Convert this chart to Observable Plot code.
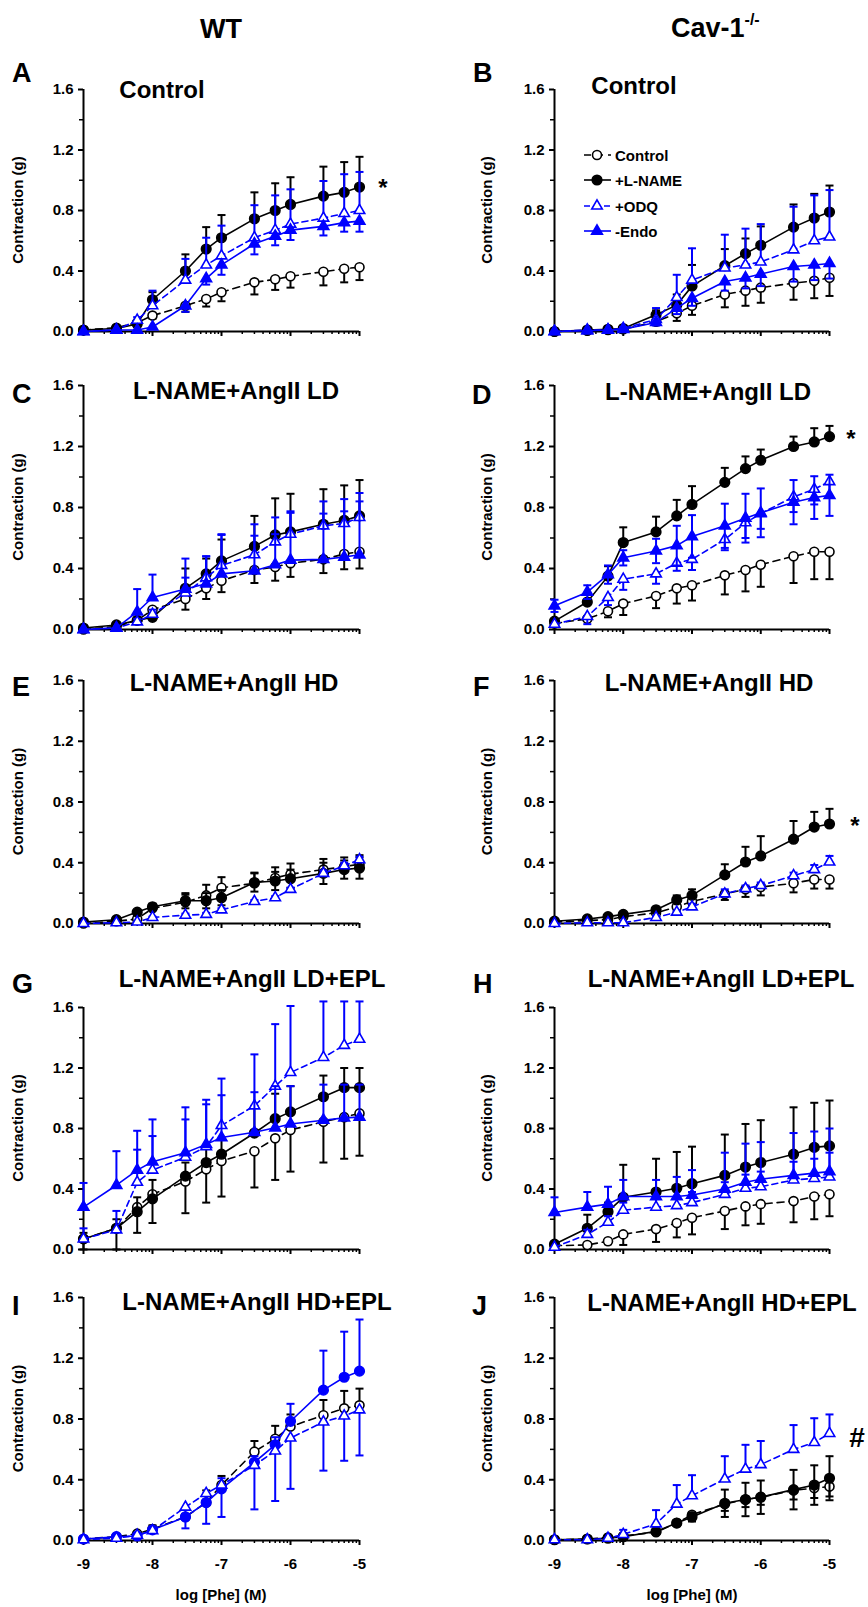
<!DOCTYPE html>
<html><head><meta charset="utf-8">
<script src="https://cdn.jsdelivr.net/npm/d3@7"></script>
<script src="https://cdn.jsdelivr.net/npm/@observablehq/plot@0.6"></script>
<style>
html,body{margin:0;padding:0;background:#fff;}
#root{position:relative;width:868px;height:1607px;overflow:hidden;background:#fff;}
#root svg{position:absolute;}
</style></head><body><div id="root"></div>
<script>
// ---- data ----
const phe = [1e-9,3e-9,6e-9,1e-8,3e-8,6e-8,1e-7,3e-7,6e-7,1e-6,3e-6,6e-6,1e-5]; // M
const xTicks = [-9,-8,-7,-6,-5];
const yTicks = [0,0.4,0.8,1.2,1.6];
const yMinorTicks = [0.2,0.6,1.0,1.4];
const seriesNames = ["Control","+L-NAME","+ODQ","-Endo"];
const panelTitles = ["Control","Control","L-NAME+AngII LD","L-NAME+AngII LD","L-NAME+AngII HD","L-NAME+AngII HD","L-NAME+AngII LD+EPL","L-NAME+AngII LD+EPL","L-NAME+AngII HD+EPL","L-NAME+AngII HD+EPL"];
const panelLetters = ["A","B","C","D","E","F","G","H","I","J"];
const columnHeads = ["WT","Cav-1"];
const yLabel = "Contraction (g)";
const xLabel = "log [Phe] (M)";

const A_ctrl = [0.01,0.025,0.06,0.105,0.17,0.215,0.26,0.325,0.345,0.365,0.395,0.415,0.425];
const A_ctrlErr = [0,0,0.01,0.02,0.04,0.05,0.06,0.08,0.07,0.075,0.09,0.09,0.085];
const A_lname = [0.01,0.02,0.05,0.21,0.40,0.545,0.62,0.745,0.80,0.84,0.895,0.92,0.955];
const A_lnameErr = [0,0,0.01,0.05,0.11,0.145,0.15,0.175,0.18,0.18,0.195,0.2,0.2];
const A_odq = [0,0.01,0.075,0.17,0.34,0.44,0.50,0.62,0.67,0.71,0.75,0.78,0.80];
const A_odqErr = [0,0,0.02,0.1,0.14,0.18,0.2,0.215,0.23,0.23,0.245,0.26,0.255];
const A_endo = [0,0.01,0.01,0.03,0.17,0.35,0.44,0.58,0.63,0.67,0.695,0.72,0.73];
const A_endoErr = [0,0,0,0.01,0.04,0.04,0.065,0.07,0.06,0.065,0.06,0.06,0.07];

const B_ctrl = [0,0.005,0.01,0.015,0.065,0.12,0.17,0.245,0.27,0.29,0.32,0.335,0.355];
const B_ctrlErr = [0,0,0,0.01,0.02,0.05,0.06,0.085,0.1,0.1,0.11,0.115,0.12];
const B_lname = [0,0.01,0.015,0.02,0.11,0.175,0.30,0.435,0.515,0.57,0.69,0.75,0.79];
const B_lnameErr = [0,0,0,0.01,0.03,0.07,0.14,0.11,0.1,0.125,0.15,0.16,0.175];
const B_odq = [0,0.01,0.01,0.02,0.08,0.225,0.34,0.42,0.44,0.46,0.54,0.60,0.625];
const B_odqErr = [0,0,0,0.01,0.075,0.15,0.21,0.22,0.24,0.25,0.285,0.3,0.31];
const B_endo = [0,0.005,0.01,0.015,0.06,0.155,0.22,0.33,0.355,0.38,0.43,0.44,0.45];
const B_endoErr = [0,0,0,0.01,0.02,0.04,0.05,0.06,0.07,0.08,0.1,0.1,0.1];

const C_ctrl = [0,0.02,0.06,0.13,0.20,0.27,0.32,0.39,0.41,0.435,0.46,0.495,0.51];
const C_ctrlErr = [0,0,0.01,0.02,0.07,0.07,0.075,0.085,0.09,0.09,0.09,0.1,0.11];
const C_lname = [0.01,0.03,0.06,0.08,0.27,0.365,0.45,0.545,0.62,0.64,0.69,0.715,0.745];
const C_lnameErr = [0,0,0.01,0.02,0.13,0.1,0.14,0.2,0.24,0.25,0.23,0.23,0.235];
const C_odq = [0,0.01,0.05,0.10,0.24,0.34,0.42,0.49,0.575,0.625,0.68,0.695,0.735];
const C_odqErr = [0,0,0.02,0.03,0.1,0.14,0.2,0.2,0.16,0.15,0.16,0.16,0.16];
const C_endo = [0,0.01,0.115,0.21,0.265,0.30,0.365,0.385,0.425,0.455,0.46,0.475,0.49];
const C_endoErr = [0,0,0.15,0.15,0.2,0.18,0.26,0.23,0.2,0.31,0.3,0.3,0.35];

const D_ctrl = [0.04,0.07,0.12,0.17,0.22,0.27,0.29,0.355,0.39,0.425,0.48,0.51,0.51];
const D_ctrlErr = [0,0.01,0.04,0.075,0.08,0.1,0.1,0.125,0.14,0.145,0.175,0.18,0.18];
const D_lname = [0.055,0.18,0.35,0.57,0.64,0.745,0.82,0.965,1.055,1.11,1.20,1.23,1.265];
const D_lnameErr = [0,0,0.065,0.1,0.1,0.105,0.12,0.095,0.08,0.07,0.065,0.09,0.07];
const D_odq = [0.035,0.085,0.21,0.33,0.365,0.435,0.46,0.59,0.70,0.76,0.87,0.92,0.97];
const D_odqErr = [0,0.05,0.05,0.07,0.065,0.05,0.07,0.07,0.1,0.1,0.1,0.1,0.1];
const D_endo = [0.155,0.245,0.36,0.47,0.515,0.55,0.61,0.68,0.73,0.765,0.835,0.865,0.88];
const D_endoErr = [0.04,0.045,0.06,0.05,0.08,0.13,0.14,0.145,0.16,0.16,0.145,0.14,0.135];

const E_ctrl = [0,0.015,0.03,0.1,0.14,0.185,0.235,0.265,0.30,0.325,0.355,0.375,0.39];
const E_ctrlErr = [0,0,0.01,0.02,0.05,0.07,0.07,0.07,0.07,0.07,0.07,0.06,0.06];
const E_lname = [0.01,0.025,0.075,0.11,0.15,0.15,0.17,0.27,0.28,0.295,0.33,0.355,0.365];
const E_lnameErr = [0,0,0.01,0.02,0.05,0.05,0.05,0.06,0.06,0.06,0.07,0.06,0.07];
const E_odq = [0,0.005,0.01,0.04,0.055,0.06,0.09,0.145,0.17,0.225,0.33,0.38,0.42];
const E_odqErr = [0,0,0,0.005,0.01,0.01,0.01,0.01,0.01,0.01,0.02,0.02,0.02];

const F_ctrl = [0.01,0.02,0.025,0.045,0.07,0.11,0.145,0.195,0.225,0.24,0.265,0.29,0.29];
const F_ctrlErr = [0,0,0,0.01,0.01,0.03,0.03,0.04,0.05,0.055,0.06,0.06,0.06];
const F_lname = [0.015,0.03,0.045,0.06,0.09,0.155,0.185,0.32,0.405,0.445,0.555,0.635,0.655];
const F_lnameErr = [0,0,0.01,0.01,0.01,0.03,0.04,0.07,0.1,0.13,0.12,0.1,0.1];
const F_odq = [0,0.005,0.005,0.005,0.04,0.075,0.11,0.195,0.23,0.25,0.315,0.355,0.405];
const F_odqErr = [0,0,0,0,0.01,0.01,0.02,0.03,0.02,0.02,0.02,0.03,0.04];

const G_ctrl = [0.07,0.14,0.28,0.365,0.45,0.53,0.585,0.65,0.735,0.79,0.845,0.875,0.90];
const G_ctrlErr = [0.07,0.14,0.17,0.19,0.21,0.22,0.235,0.24,0.275,0.275,0.27,0.275,0.28];
const G_lname = [0.07,0.14,0.25,0.335,0.485,0.575,0.63,0.77,0.865,0.91,1.01,1.07,1.07];
const G_lnameErr = [0.04,0.06,0.095,0.125,0.09,0.1,0.1,0.18,0.165,0.17,0.14,0.13,0.13];
const G_odq = [0.07,0.13,0.445,0.525,0.61,0.68,0.82,0.95,1.08,1.17,1.27,1.35,1.39];
const G_odqErr = [0.07,0.125,0.215,0.225,0.25,0.28,0.31,0.34,0.41,0.44,0.37,0.29,0.25];
const G_endo = [0.28,0.425,0.525,0.58,0.64,0.695,0.74,0.775,0.805,0.83,0.855,0.87,0.875];
const G_endoErr = [0.16,0.225,0.26,0.28,0.3,0.295,0.28,0.265,0.275,0.25,0.235,0.22,0.215];

const H_ctrl = [0.025,0.03,0.055,0.1,0.135,0.175,0.21,0.255,0.285,0.30,0.32,0.35,0.365];
const H_ctrlErr = [0,0,0.02,0.07,0.085,0.095,0.11,0.12,0.125,0.13,0.14,0.15,0.145];
const H_lname = [0.035,0.14,0.25,0.345,0.38,0.405,0.435,0.49,0.545,0.575,0.63,0.675,0.685];
const H_lnameErr = [0,0.09,0.06,0.215,0.22,0.24,0.245,0.27,0.285,0.28,0.31,0.295,0.3];
const H_odq = [0.015,0.1,0.18,0.26,0.28,0.29,0.31,0.365,0.405,0.415,0.46,0.47,0.48];
const H_odqErr = [0,0.03,0.04,0.05,0.06,0.06,0.07,0.08,0.09,0.1,0.12,0.13,0.16];
const H_endo = [0.245,0.28,0.30,0.35,0.35,0.35,0.36,0.40,0.445,0.465,0.49,0.505,0.515];
const H_endoErr = [0.1,0.1,0.115,0.11,0.11,0.13,0.165,0.24,0.255,0.245,0.28,0.275,0.285];

const I_ctrl = [0.01,0.025,0.045,0.075,0.155,0.25,0.365,0.585,0.67,0.75,0.825,0.87,0.89];
const I_ctrlErr = [0,0,0.01,0.025,0.02,0.08,0.06,0.07,0.085,0.08,0.1,0.115,0.11];
const I_lname = [0.01,0.025,0.03,0.07,0.155,0.25,0.34,0.515,0.63,0.785,0.99,1.075,1.115];
const I_lnameErr = [0,0,0.01,0.02,0.02,0.06,0.07,0.04,0.05,0.115,0.26,0.3,0.34];
const I_odq = [0.005,0.015,0.035,0.065,0.22,0.31,0.365,0.495,0.59,0.675,0.78,0.82,0.86];
const I_odqErr = [0,0,0.01,0.01,0.14,0.2,0.21,0.29,0.33,0.335,0.32,0.295,0.3];

const J_ctrl = [0.005,0.01,0.02,0.03,0.055,0.115,0.17,0.24,0.27,0.285,0.33,0.345,0.355];
const J_ctrlErr = [0,0,0,0.01,0.01,0.02,0.03,0.045,0.05,0.05,0.06,0.065,0.065];
const J_lname = [0.005,0.01,0.015,0.025,0.06,0.115,0.155,0.245,0.27,0.285,0.335,0.365,0.41];
const J_lnameErr = [0,0,0,0.01,0.01,0.02,0.03,0.09,0.11,0.11,0.13,0.13,0.145];
const J_odq = [0.005,0.005,0.015,0.04,0.11,0.24,0.295,0.405,0.47,0.50,0.60,0.645,0.705];
const J_odqErr = [0,0,0,0.03,0.09,0.125,0.135,0.15,0.16,0.155,0.16,0.16,0.125];

// ---- styles ----
const BLUE = "#0000ff";
const FONT = '"Liberation Sans", Arial, Helvetica, sans-serif';
const styles = {
  ctrl:  {color: "black", fill: "white", symbol: "circle",   r: 4.5, dash: "7,5"},
  lname: {color: "black", fill: "black", symbol: "circle",   r: 4.8, dash: null},
  odq:   {color: BLUE,    fill: "white", symbol: "triangle", r: 3.9, dash: "6,4"},
  endo:  {color: BLUE,    fill: BLUE,    symbol: "triangle", r: 4.0, dash: null}
};
const S = (key, values, err, dir, over) => ({key, values, err, dir, st: Object.assign({}, styles[key], over || {})});

// layout
const rowTop = [89, 385, 680, 1007, 1297];
const rowBottom = [331, 629, 923, 1249, 1540];

const panels = [
  {row:0,col:0, series:[S("ctrl",A_ctrl,A_ctrlErr,"down"),S("lname",A_lname,A_lnameErr,"up"),S("odq",A_odq,A_odqErr,"up"),S("endo",A_endo,A_endoErr,"down")]},
  {row:0,col:1, series:[S("ctrl",B_ctrl,B_ctrlErr,"down"),S("lname",B_lname,B_lnameErr,"up"),S("odq",B_odq,B_odqErr,"up"),S("endo",B_endo,B_endoErr,"down")]},
  {row:1,col:0, series:[S("ctrl",C_ctrl,C_ctrlErr,"down"),S("lname",C_lname,C_lnameErr,"up"),S("odq",C_odq,C_odqErr,"up"),S("endo",C_endo,C_endoErr,"up")]},
  {row:1,col:1, series:[S("ctrl",D_ctrl,D_ctrlErr,"down"),S("lname",D_lname,D_lnameErr,"up"),S("odq",D_odq,D_odqErr,"down"),S("endo",D_endo,D_endoErr,"both")]},
  {row:2,col:0, series:[S("ctrl",E_ctrl,E_ctrlErr,"up"),S("lname",E_lname,E_lnameErr,"both"),S("odq",E_odq,E_odqErr,"up")]},
  {row:2,col:1, series:[S("ctrl",F_ctrl,F_ctrlErr,"down"),S("lname",F_lname,F_lnameErr,"up"),S("odq",F_odq,F_odqErr,"up")]},
  {row:3,col:0, series:[S("ctrl",G_ctrl,G_ctrlErr,"down"),S("lname",G_lname,G_lnameErr,"up"),S("odq",G_odq,G_odqErr,"up"),S("endo",G_endo,G_endoErr,"up")]},
  {row:3,col:1, series:[S("ctrl",H_ctrl,H_ctrlErr,"down"),S("lname",H_lname,H_lnameErr,"up"),S("odq",H_odq,H_odqErr,"up"),S("endo",H_endo,H_endoErr,"up")]},
  {row:4,col:0, series:[S("ctrl",I_ctrl,I_ctrlErr,"up"),S("lname",I_lname,I_lnameErr,"up",{color:BLUE,fill:BLUE}),S("odq",I_odq,I_odqErr,"down")]},
  {row:4,col:1, series:[S("ctrl",J_ctrl,J_ctrlErr,"down"),S("lname",J_lname,J_lnameErr,"both"),S("odq",J_odq,J_odqErr,"up")]}
];

// title / letter / mark positions (layout)
const titlePos = [[162,98],[634,94],[236,399],[708,400],[234,691],[709,691],[252,987],[721,987],[257,1310],[722,1311]];
const letterPos = [[12,82],[473,82],[12,403],[472,404],[12,696],[473,696],[12,993],[473,993],[12,1315],[472,1315]];
const sigMarks = [{t:"*",x:383,y:196,s:24},{t:"*",x:851,y:447,s:24},{t:"*",x:855,y:834,s:24},{t:"#",x:857,y:1447,s:28}];

const capSymbol = {draw(ctx, size){ const r = Math.sqrt(size/Math.PI); ctx.moveTo(-r,0); ctx.lineTo(r,0); }};
const xMinor = [];
for (let n = -9; n < -5; n++) for (let k = 2; k <= 9; k++) xMinor.push(n + Math.log10(k));

const root = document.getElementById("root");

for (const p of panels) {
  const mt = 25, mb = p.row === 4 ? 40 : 25;
  const ml = p.col === 0 ? 83 : 120, mr = p.col === 0 ? 75 : 39;
  const h = rowBottom[p.row] - rowTop[p.row];
  const bottomRow = p.row === 4;
  const marks = [
    Plot.ruleY([0], {strokeWidth: 2}),
    Plot.ruleX([-9], {strokeWidth: 2}),
    Plot.axisY({ticks: yTicks, tickSize: 5, tickPadding: 5, tickFormat: d3.format(".1f"), label: null, strokeWidth: 2}),
    Plot.axisY({ticks: yMinorTicks, tickSize: 4, tickFormat: () => "", label: null, strokeWidth: 1.5}),
    Plot.axisX({ticks: xTicks, tickSize: 5, tickPadding: 13, tickFormat: bottomRow ? (d => String(d)) : (() => ""), label: null, strokeWidth: 2}),
    Plot.axisX({ticks: xMinor, tickSize: 3, tickFormat: () => "", label: null, strokeWidth: 1.5})
  ];
  for (const s of p.series) {
    const st = s.st;
    const pts = phe.map((c, i) => ({x: Math.log10(c), y: s.values[i], err: s.err[i]}));
    const up = s.dir === "up" || s.dir === "both";
    const down = s.dir === "down" || s.dir === "both";
    const bars = pts.filter(d => d.err > 0).map(d => ({x: d.x, lo: down ? d.y - d.err : d.y, hi: up ? d.y + d.err : d.y}));
    marks.push(Plot.ruleX(bars, {x: "x", y1: "lo", y2: "hi", stroke: st.color, strokeWidth: 2}));
    if (up) marks.push(Plot.dot(bars, {x: "x", y: "hi", symbol: capSymbol, r: 4, stroke: st.color, strokeWidth: 2, fill: "none"}));
    if (down) marks.push(Plot.dot(bars, {x: "x", y: "lo", symbol: capSymbol, r: 4, stroke: st.color, strokeWidth: 2, fill: "none"}));
    marks.push(Plot.line(pts, {x: "x", y: "y", stroke: st.color, strokeWidth: 1.6, strokeDasharray: st.dash || undefined}));
    marks.push(Plot.dot(pts, {x: "x", y: "y", symbol: st.symbol, r: st.r, fill: st.fill, stroke: st.color, strokeWidth: 1.6}));
  }
  const svg = Plot.plot({
    width: 434, height: mt + h + mb,
    marginTop: mt, marginBottom: mb, marginLeft: ml, marginRight: mr,
    x: {type: "linear", domain: [-9, -5]},
    y: {type: "linear", domain: [0, 1.6]},
    style: {fontFamily: FONT, fontSize: "15px", fontWeight: "bold", background: "transparent", overflow: "visible", color: "black"},
    marks
  });
  svg.style.position = "absolute";
  svg.style.left = (p.col * 434) + "px";
  svg.style.top = (rowTop[p.row] - mt) + "px";
  root.appendChild(svg);
}

// ---- overlay texts & legend ----
const ov = d3.select(root).append("svg")
  .attr("width", 868).attr("height", 1607)
  .style("left", "0px").style("top", "0px").style("pointer-events", "none")
  .attr("font-family", FONT).attr("font-weight", "bold");

ov.append("text").attr("x", 221).attr("y", 38).attr("text-anchor", "middle").attr("font-size", 27).text(columnHeads[0]);
const cav = ov.append("text").attr("x", 671).attr("y", 37).attr("font-size", 27);
cav.append("tspan").text(columnHeads[1]);
cav.append("tspan").attr("font-size", 16).attr("dy", -12).text("-/-");

panelLetters.forEach((L, i) => {
  ov.append("text").attr("x", letterPos[i][0]).attr("y", letterPos[i][1]).attr("font-size", 27).text(L);
  ov.append("text").attr("x", titlePos[i][0]).attr("y", titlePos[i][1]).attr("text-anchor", "middle").attr("font-size", 24).text(panelTitles[i]);
});

for (let r = 0; r < 5; r++) {
  const my = (rowTop[r] + rowBottom[r]) / 2;
  [23, 492].forEach(bx => {
    ov.append("text").attr("transform", `translate(${bx},${my}) rotate(-90)`).attr("text-anchor", "middle").attr("font-size", 15).text(yLabel);
  });
}
[221, 692].forEach(cx => ov.append("text").attr("x", cx).attr("y", 1600).attr("text-anchor", "middle").attr("font-size", 15).text(xLabel));

sigMarks.forEach(m => ov.append("text").attr("x", m.x).attr("y", m.y).attr("text-anchor", "middle").attr("font-size", m.s).text(m.t));

// legend (panel B)
const legendKeys = ["ctrl", "lname", "odq", "endo"];
const legY = [155, 180, 206, 231];
legendKeys.forEach((k, i) => {
  const st = styles[k];
  const g = ov.append("g").attr("transform", `translate(0,${legY[i]})`);
  g.append("line").attr("x1", 584).attr("x2", 611).attr("y1", 0).attr("y2", 0)
    .attr("stroke", st.color).attr("stroke-width", 1.6).attr("stroke-dasharray", st.dash || null);
  const type = st.symbol === "circle" ? d3.symbolCircle : d3.symbolTriangle;
  g.append("path").attr("transform", "translate(597,0)")
    .attr("d", d3.symbol().type(type).size(Math.PI * st.r * st.r)())
    .attr("fill", st.fill).attr("stroke", st.color).attr("stroke-width", 1.6);
  g.append("text").attr("x", 615).attr("y", 5.5).attr("font-size", 15).text(seriesNames[i]);
});
</script>
</body></html>
